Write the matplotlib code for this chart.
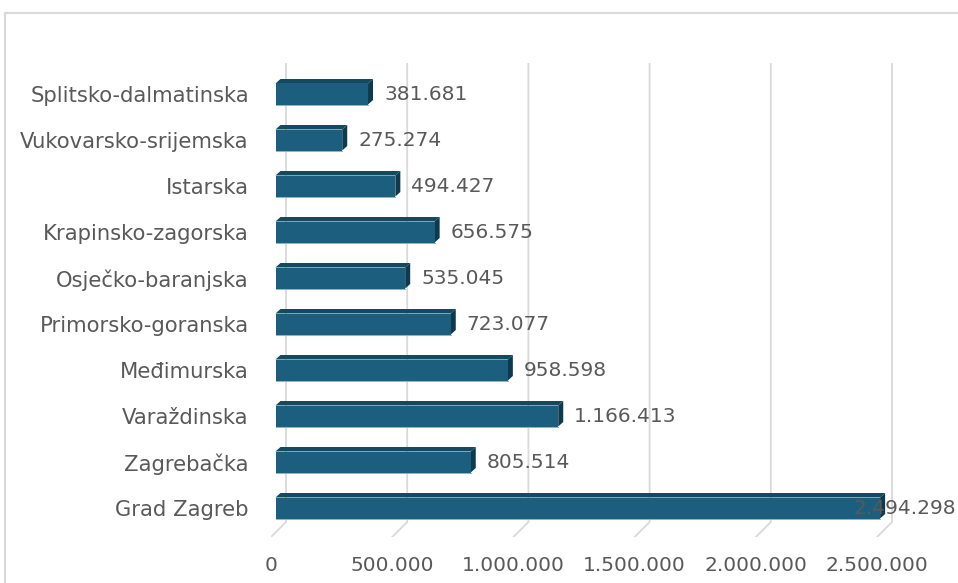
import matplotlib.pyplot as plt
from matplotlib.patches import Polygon, Rectangle

# data (top to bottom as shown)
counties = ['Splitsko-dalmatinska', 'Vukovarsko-srijemska', 'Istarska', 'Krapinsko-zagorska',
            'Osječko-baranjska', 'Primorsko-goranska', 'Međimurska', 'Varaždinska',
            'Zagrebačka', 'Grad Zagreb']
values = [381681, 275274, 494427, 656575, 535045, 723077, 958598, 1166413, 805514, 2494298]
ticks = [0, 500000, 1000000, 1500000, 2000000, 2500000]


def fmt(v):
    return '{:,}'.format(v).replace(',', '.')


W, H = 958, 583
fig = plt.figure(figsize=(W / 100, H / 100), dpi=100)

# plot area in pixels
ax_l, ax_r, ax_top, ax_bot = 271, 958, 63, 537
ax = fig.add_axes([ax_l / W, (H - ax_bot) / H, (ax_r - ax_l) / W, (ax_bot - ax_top) / H])
ax.set_facecolor('none')

px_per_unit = 121.2 / 500000
xmax = (ax_r - ax_l) / px_per_unit
cat_px = 46
first_px = 29  # center of lowest bar above axes bottom
ax.set_xlim(0, xmax)
ax.set_ylim(-first_px / cat_px, (ax_bot - ax_top - first_px) / cat_px)

ux = xmax / (ax_r - ax_l)   # data units per pixel
uy = 1 / cat_px

text_c = '#595959'
grid_c = '#d9d9d9'
front_c = '#1b5e7d'
top_c = '#14495f'
side_c = '#0f3a4d'

# back wall gridlines with floor feet
back_dx, back_dy = 15 * ux, 15 * uy
y_floor = ax.get_ylim()[0]
y_top = ax.get_ylim()[1]
for t in ticks:
    ax.plot([t, t + back_dx, t + back_dx], [y_floor, y_floor + back_dy, y_top],
            color=grid_c, lw=1.3, solid_joinstyle='miter', zorder=1)

# 3D bars
n = len(counties)
off = 4.5 * ux
dx, dy = 5 * ux, 4.5 * uy
hh = 10.5 * uy
for i, (name, v) in enumerate(zip(counties, values)):
    y = n - 1 - i
    x0 = off
    x1 = off + v
    yb, yt = y - hh, y + hh
    ax.add_patch(Polygon([(x0, yt), (x1, yt), (x1 + dx, yt + dy), (x0 + dx, yt + dy)],
                         closed=True, fc=top_c, ec='none', zorder=3))
    ax.add_patch(Polygon([(x1, yb), (x1, yt), (x1 + dx, yt + dy), (x1 + dx, yb + dy)],
                         closed=True, fc=side_c, ec='none', zorder=3))
    ax.add_patch(Rectangle((x0, yb), v, 2 * hh, fc=front_c, ec='none', zorder=4))
    ax.plot([x0, x1], [yb, yb], color='#8fb1c1', lw=0.7, zorder=5)
    # labels that would run off the chart are pulled back inside
    lx = min(x1 + 16 * ux, 2405000)
    ax.text(lx, y - 1 * uy, fmt(v), ha='left', va='center', fontsize=14.5, color=text_c,
            zorder=6, clip_on=False)

ax.set_yticks(range(n))
ax.set_yticklabels(counties[::-1])
ax.set_xticks(ticks)
ax.set_xticklabels([fmt(t) for t in ticks])
ax.tick_params(axis='y', length=0, pad=16, labelsize=15.2, labelcolor=text_c)
ax.tick_params(axis='x', length=0, pad=14, labelsize=14.5, labelcolor=text_c)
for sp in ax.spines.values():
    sp.set_visible(False)

# chart border (cut off at the right and bottom)
fig.add_artist(Rectangle((5 / W, -0.1), 1.2, (H - 13) / H + 0.1, transform=fig.transFigure,
                         fill=False, ec=grid_c, lw=1.5))

fig.savefig('out.png', dpi=100)
